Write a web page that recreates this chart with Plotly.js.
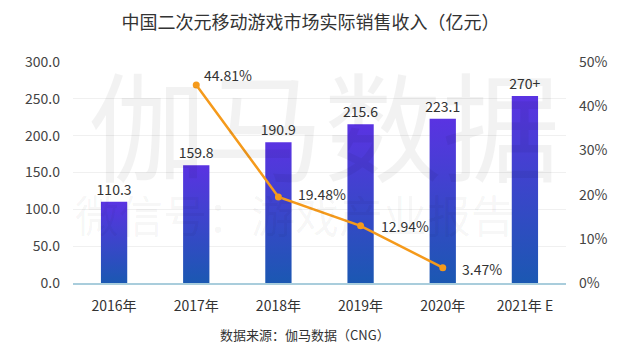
<!DOCTYPE html>
<html>
<head>
<meta charset="utf-8">
<script src="https://cdn.plot.ly/plotly-3.0.1.min.js"></script>
<style>html,body{margin:0;padding:0;background:#fff;}#chart{width:640px;height:354px;}</style>
</head>
<body>
<div id="chart"></div>
<script>
const categories = ["2016年", "2017年", "2018年", "2019年", "2020年", "2021年 E"];
const revenue = [110.3, 159.8, 190.9, 215.6, 223.1, 254];
const revenueLabels = ["110.3", "159.8", "190.9", "215.6", "223.1", "270+"];
const growthCats = ["2017年", "2018年", "2019年", "2020年"];
const growth = [44.81, 19.48, 12.94, 3.47];
const growthLabels = ["44.81%", "19.48%", "12.94%", "3.47%"];
const leftTicks = [0, 50, 100, 150, 200, 250, 300];

const FONT = '"Noto Sans CJK SC", "Noto Sans", sans-serif';

const bars = {
  type: 'bar', x: categories, y: revenue,
  text: revenueLabels, textposition: 'outside', cliponaxis: false, constraintext: 'none',
  textfont: {family: FONT, size: 14, color: '#333'},
  marker: {color: '#4a3fd0'},
  hoverinfo: 'none', showlegend: false
};
const line = {
  type: 'scatter', mode: 'lines+markers', x: growthCats, y: growth, yaxis: 'y2',
  line: {color: '#f59a1b', width: 2.5},
  marker: {color: '#f59a1b', size: 7},
  cliponaxis: false, hoverinfo: 'none', showlegend: false
};

const labelShiftX = [6, 18, 18, 17];
const labelShiftY = [10, 3, 0, -1];
const growthAnn = growthCats.map(function (c, i) {
  return {text: growthLabels[i], x: c, y: growth[i], xref: 'x', yref: 'y2', showarrow: false,
          xanchor: 'left', yanchor: 'middle', xshift: labelShiftX[i], yshift: labelShiftY[i],
          font: {family: FONT, size: 14, color: '#333'}};
});

const layout = {
  width: 640, height: 354,
  margin: {l: 73, r: 74, t: 62, b: 71},
  paper_bgcolor: '#fff', plot_bgcolor: 'rgba(0,0,0,0)',
  font: {family: FONT, color: '#333', size: 14},
  title: {text: '中国二次元移动游戏市场实际销售收入（亿元）', x: 0.485, xanchor: 'center', y: 0.935, yanchor: 'middle',
          font: {family: FONT, size: 18, color: '#333'}},
  bargap: 0.68,
  xaxis: {type: 'category', showgrid: false, zeroline: false, showline: true, linecolor: '#a9cddc', linewidth: 1.5,
          ticks: '', tickfont: {family: FONT, size: 14, color: '#333'}, ticklabelstandoff: 10},
  yaxis: {range: [0, 300], tickvals: leftTicks, tickformat: '.1f', showgrid: true, gridcolor: '#f0f0f0',
          zeroline: false, showline: false, ticks: '', tickfont: {family: FONT, size: 14, color: '#444'}, ticklabelstandoff: 12},
  yaxis2: {range: [0, 50], dtick: 10, ticksuffix: '%', overlaying: 'y', side: 'right', showgrid: false,
           zeroline: false, showline: false, ticks: '', tickfont: {family: FONT, size: 14, color: '#444'}, ticklabelstandoff: 12},
  annotations: [
    {text: '伽马数据', xref: 'paper', yref: 'paper', x: 0.51, y: 0.73, xanchor: 'center', yanchor: 'middle', showarrow: false,
     font: {family: FONT, size: 118, color: 'rgba(0,0,0,0.05)'}},
    {text: '微信号：游戏产业报告', xref: 'paper', yref: 'paper', x: 0.45, y: 0.31, xanchor: 'center', yanchor: 'middle', showarrow: false,
     font: {family: FONT, size: 44, color: 'rgba(0,0,0,0.045)'}},
    {text: '数据来源：伽马数据（CNG）', xref: 'paper', yref: 'paper', x: 0.47, y: -0.235, xanchor: 'center', yanchor: 'middle', showarrow: false,
     font: {family: FONT, size: 13, color: '#333'}}
  ].concat(growthAnn)
};

Plotly.newPlot('chart', [bars, line], layout, {displayModeBar: false, staticPlot: true}).then(function (gd) {
  const svg = gd.querySelector('svg.main-svg');
  let defs = svg.querySelector('defs');
  const ns = 'http://www.w3.org/2000/svg';
  const grad = document.createElementNS(ns, 'linearGradient');
  grad.setAttribute('id', 'barGrad');
  grad.setAttribute('x1', '0'); grad.setAttribute('y1', '0');
  grad.setAttribute('x2', '0'); grad.setAttribute('y2', '1');
  [['0', '#5a33e2'], ['1', '#1b58b2']].forEach(function (s) {
    const st = document.createElementNS(ns, 'stop');
    st.setAttribute('offset', s[0]); st.setAttribute('stop-color', s[1]);
    grad.appendChild(st);
  });
  defs.appendChild(grad);
  gd.querySelectorAll('.barlayer .point path').forEach(function (p) { p.style.fill = 'url(#barGrad)'; });
});
</script>
</body>
</html>
